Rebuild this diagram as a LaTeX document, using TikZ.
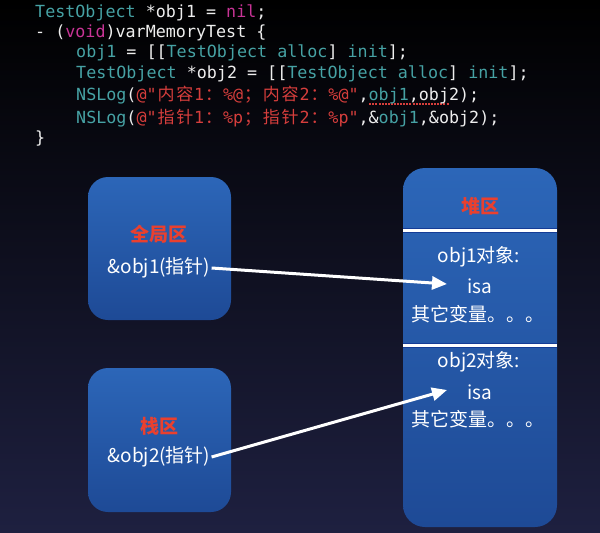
\documentclass[tikz,border=0pt]{standalone}
\usepackage{fontspec}
\setmonofont{DejaVu Sans Mono}
\newfontfamily\cjk{Noto Sans CJK SC}
\usetikzlibrary{arrows.meta}
\definecolor{codeteal}{RGB}{70,162,164}
\definecolor{codemag}{RGB}{200,52,150}
\definecolor{codered}{RGB}{214,62,60}
\definecolor{codewhite}{RGB}{238,238,238}
\definecolor{boxtop}{RGB}{44,102,184}
\definecolor{boxbot}{RGB}{30,74,150}
\definecolor{labred}{RGB}{234,64,46}
\definecolor{bgbot}{RGB}{30,32,64}
\definecolor{bgmid}{RGB}{6,6,18}
\definecolor{divblue}{RGB}{20,60,150}
\newcommand\codeT[1]{\textcolor{codeteal}{#1}}
\newcommand\codeM[1]{\textcolor{codemag}{#1}}
\newcommand\codeR[1]{\textcolor{codered}{#1}}
\newcommand\cjw[1]{\makebox[18.8pt][c]{\cjk\fontsize{17}{20}\selectfont #1}}
\newsavebox\dubox
\newcommand\dotund[1]{\sbox\dubox{#1}\rlap{\raisebox{-4.5pt}{\textcolor{codered}{\hbox to \wd\dubox{\xleaders\hbox to 3pt{\hss\rule{2pt}{1.6pt}\hss}\hfill}}}}\usebox\dubox}
\tikzset{
  codeline/.style={anchor=base west, inner sep=0pt, text=codewhite,
    font=\ttfamily\fontsize{16.7}{20}\selectfont},
  membox/.style={rounded corners=20pt, top color=boxtop, bottom color=boxbot, draw=none, inner sep=0pt},
  redlabel/.style={text=labred, font=\cjk\bfseries\fontsize{19}{23}\selectfont, inner sep=0pt},
  whitelabel/.style={text=white, font=\cjk\fontsize{19}{23}\selectfont, inner sep=1pt},
  pointer/.style={draw=white, line width=3pt, -{Triangle[length=15pt,width=13pt]}},
}
\begin{document}
\begin{tikzpicture}[x=1pt,y=-1pt]
\useasboundingbox (0,0) rectangle (600,533);
\fill[top color=black, middle color=bgmid, bottom color=bgbot] (0,0) rectangle (600,533);
% code
\node[codeline] (c1) at (35,17) {\codeT{TestObject} *obj1 = \codeM{nil};};
\node[codeline] (c2) at (35,37) {- (\codeM{void})varMemoryTest \{};
\node[codeline] (c3) at (76,57) {\codeT{obj1} = [[\codeT{TestObject alloc}] \codeT{init}];};
\node[codeline] (c4) at (76,78) {\codeT{TestObject} *obj2 = [[\codeT{TestObject alloc}] \codeT{init}];};
\node[codeline] (c5) at (76,100) {\codeT{NSLog}(\codeR{@"\cjw{内}\cjw{容}1\cjw{：}\%@\cjw{；}\cjw{内}\cjw{容}2\cjw{：}\%@"},\dotund{\codeT{obj1},obj}2);};
\node[codeline] (c6) at (76,123) {\codeT{NSLog}(\codeR{@"\cjw{指}\cjw{针}1\cjw{：}\%p\cjw{；}\cjw{指}\cjw{针}2\cjw{：}\%p"},\&\codeT{obj1},\&obj2);};
\node[codeline] (c7) at (35,143) {\}};
% boxes
\node[membox, minimum width=143pt, minimum height=143pt] (glob) at (159.5,248.5) {};
\node[membox, minimum width=143pt, minimum height=144pt] (stack) at (159.5,440) {};
\node[membox, rounded corners=22pt, minimum width=154pt, minimum height=359pt] (heap) at (480,347.5) {};
% dividers
\coordinate (d1) at (0,230.5);
\coordinate (d2) at (0,345);
\draw[divblue, line width=5pt] (heap.west |- d1) -- (heap.east |- d1);
\draw[white, line width=3pt] (heap.west |- d1) -- (heap.east |- d1);
\draw[divblue, line width=5pt] (heap.west |- d2) -- (heap.east |- d2);
\draw[white, line width=3pt] (heap.west |- d2) -- (heap.east |- d2);
% labels
\node[redlabel] (globt) at (159,234) {全局区};
\node[whitelabel] (p1) at (159,268) {\&obj1(指针)};
\node[redlabel] (stackt) at (159,426) {栈区};
\node[whitelabel] (p2) at (159,457) {\&obj2(指针)};
\node[redlabel] (heapt) at (480,206) {堆区};
\node[whitelabel] (o1) at (479,257) {obj1对象:};
\node[whitelabel] (i1) at (480,286) {isa};
\node[whitelabel] (v1) at (478,314) {其它变量。。。};
\node[whitelabel] (o2) at (479,362) {obj2对象:};
\node[whitelabel] (i2) at (480,392) {isa};
\node[whitelabel] (v2) at (478,419) {其它变量。。。};
% arrows
\coordinate (t1) at (447,284);
\coordinate (t2) at (447,390);
\draw[pointer] (p1.east) -- (t1);
\draw[pointer] (p2.east) -- (t2);
\end{tikzpicture}
\end{document}
